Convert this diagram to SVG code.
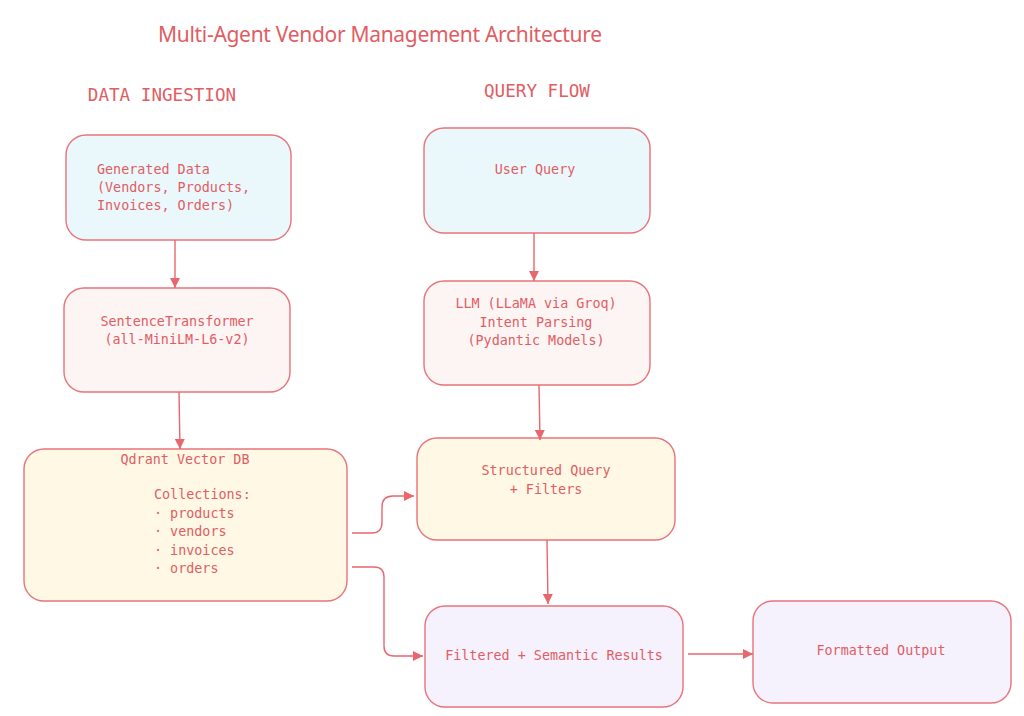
<svg xmlns="http://www.w3.org/2000/svg" width="1024" height="716" viewBox="0 0 1024 716">
<style>
.box{stroke:#e8737a;stroke-width:1.4}
.blue{fill:#eaf8fc}.pink{fill:#fdf4f4}.yellow{fill:#fef8e5}.lav{fill:#f5f1fd}
.t{font-family:"DejaVu Sans Mono","Liberation Mono",monospace;font-size:13.4px;fill:#e05d63}
.h{font-family:"DejaVu Sans Mono","Liberation Mono",monospace;font-size:17.6px;fill:#e05d63;text-anchor:middle}
.title{font-family:"Noto Sans","Liberation Sans",sans-serif;font-size:21px;fill:#e05d63;text-anchor:middle}
.c{text-anchor:middle}
.conn{fill:none;stroke:#e8666d;stroke-width:1.4}
</style>
<defs>
<marker id="ah" viewBox="0 0 10 10" refX="10" refY="5" markerWidth="10" markerHeight="10" markerUnits="userSpaceOnUse" orient="auto">
<path d="M0,0 L10,5 L0,10 Z" fill="#e8666d"/>
</marker>
</defs>
<rect width="1024" height="716" fill="#ffffff"/>
<text class="title" x="380" y="42" textLength="444" lengthAdjust="spacing">Multi-Agent Vendor Management Architecture</text>
<text class="h" x="162" y="101">DATA INGESTION</text>
<text class="h" x="537" y="97">QUERY FLOW</text>

<g id="n-generated">
<rect class="box blue" x="66" y="135" width="225" height="105" rx="20"/>
<text class="t" x="97" y="174">Generated Data</text>
<text class="t" x="97" y="192">(Vendors, Products,</text>
<text class="t" x="97" y="210">Invoices, Orders)</text>
</g>
<g id="n-sentence">
<rect class="box pink" x="64" y="288" width="226" height="104" rx="20"/>
<text class="t c" x="177" y="326">SentenceTransformer</text>
<text class="t c" x="177" y="344">(all-MiniLM-L6-v2)</text>
</g>
<g id="n-qdrant">
<rect class="box yellow" x="24" y="449" width="323" height="152" rx="20"/>
<text class="t c" x="185" y="464">Qdrant Vector DB</text>
<text class="t" x="154" y="499">Collections:</text>
<text class="t" x="154" y="518">· products</text>
<text class="t" x="154" y="536">· vendors</text>
<text class="t" x="154" y="555">· invoices</text>
<text class="t" x="154" y="573">· orders</text>
</g>
<g id="n-user">
<rect class="box blue" x="424" y="128" width="226" height="105" rx="20"/>
<text class="t c" x="535" y="174">User Query</text>
</g>
<g id="n-llm">
<rect class="box pink" x="424" y="281" width="226" height="104" rx="20"/>
<text class="t c" x="536" y="308">LLM (LLaMA via Groq)</text>
<text class="t c" x="536" y="327">Intent Parsing</text>
<text class="t c" x="536" y="345">(Pydantic Models)</text>
</g>
<g id="n-structured">
<rect class="box yellow" x="417" y="438" width="258" height="102" rx="20"/>
<text class="t c" x="546" y="475">Structured Query</text>
<text class="t c" x="546" y="494">+ Filters</text>
</g>
<g id="n-filtered">
<rect class="box lav" x="425" y="606" width="258" height="101" rx="20"/>
<text class="t c" x="554" y="660">Filtered + Semantic Results</text>
</g>
<g id="n-formatted">
<rect class="box lav" x="753" y="601" width="258" height="102" rx="20"/>
<text class="t c" x="881" y="655">Formatted Output</text>
</g>

<g id="connectors">
<path class="conn" marker-end="url(#ah)" d="M175,240 L175,288"/>
<path class="conn" marker-end="url(#ah)" d="M179,392 L180,449"/>
<path class="conn" marker-end="url(#ah)" d="M534,233 L534,281"/>
<path class="conn" marker-end="url(#ah)" d="M539,385 L540,440"/>
<path class="conn" marker-end="url(#ah)" d="M547,540 L548,604"/>
<path class="conn" marker-end="url(#ah)" d="M688,654 L753,654"/>
<path class="conn" marker-end="url(#ah)" d="M352,533 L372,533 Q382,533 382,522 L382,507 Q382,496 393,496 L414,496"/>
<path class="conn" marker-end="url(#ah)" d="M352,567 L374,567 Q384,567 384,577 L384,646 Q384,656 394,656 L423,656"/>
</g>
</svg>
